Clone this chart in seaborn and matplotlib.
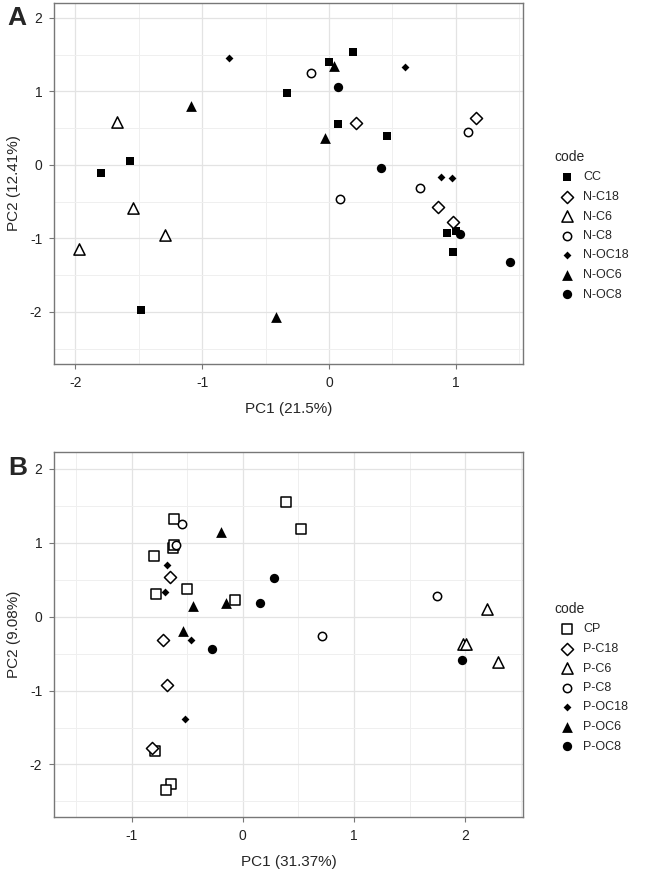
import pandas as pd
import matplotlib
matplotlib.use("Agg")
import matplotlib.pyplot as plt
import seaborn as sns
from matplotlib.ticker import MultipleLocator

sns.set_theme(style="white")
plt.rcParams['font.family'] = ['Liberation Sans', 'DejaVu Sans']
plt.rcParams['axes.unicode_minus'] = False

# panel A data (N samples)
a_code = (["CC"] * 11 + ["N-C18"] * 4 + ["N-C6"] * 4 + ["N-C8"] * 4
          + ["N-OC18"] * 4 + ["N-OC6"] * 4 + ["N-OC8"] * 4)
a_pc1 = [0.19, 0.00, -0.33, 0.07, 0.46, -1.57, -1.80, -1.48, 0.93, 1.00, 0.98,
         0.21, 1.16, 0.86, 0.98,
         -1.67, -1.55, -1.29, -1.97,
         -0.14, 1.10, 0.72, 0.09,
         -0.79, 0.60, 0.88, 0.97,
         -1.09, 0.04, -0.03, -0.42,
         0.07, 0.41, 1.03, 1.43]
a_pc2 = [1.53, 1.40, 0.98, 0.56, 0.39, 0.05, -0.11, -1.97, -0.93, -0.90, -1.18,
         0.57, 0.63, -0.58, -0.78,
         0.58, -0.59, -0.96, -1.15,
         1.25, 0.45, -0.32, -0.47,
         1.45, 1.33, -0.16, -0.18,
         0.80, 1.35, 0.36, -2.07,
         1.06, -0.05, -0.94, -1.32]

# panel B data (P samples)
b_code = (["CP"] * 12 + ["P-C18"] * 4 + ["P-C6"] * 4 + ["P-C8"] * 4
          + ["P-OC18"] * 4 + ["P-OC6"] * 4 + ["P-OC8"] * 4)
b_pc1 = [0.39, 0.52, -0.62, -0.63, -0.62, -0.80, -0.50, -0.78, -0.07, -0.79, -0.65, -0.69,
         -0.66, -0.72, -0.68, -0.82,
         2.20, 1.98, 2.01, 2.30,
         -0.55, -0.60, 1.75, 0.71,
         -0.68, -0.70, -0.47, -0.52,
         -0.20, -0.45, -0.15, -0.54,
         0.28, 0.15, -0.28, 1.97]
b_pc2 = [1.55, 1.19, 1.32, 0.93, 0.97, 0.82, 0.37, 0.31, 0.23, -1.82, -2.26, -2.35,
         0.54, -0.32, -0.92, -1.78,
         0.10, -0.37, -0.37, -0.61,
         1.26, 0.97, 0.28, -0.26,
         0.70, 0.34, -0.32, -1.38,
         1.14, 0.15, 0.18, -0.20,
         0.53, 0.18, -0.44, -0.58]

# marker style per legend position: (marker, filled, size)
rest = [("D", False, 38), ("^", False, 65), ("o", False, 36),
        ("D", True, 16), ("^", True, 60), ("o", True, 45)]
styles_a = [("s", True, 40)] + rest
styles_b = [("s", False, 44)] + rest

fig = plt.figure(figsize=(6.5, 8.76), dpi=100)
axA = fig.add_axes([0.083, 0.5845, 0.7215, 0.412])
axB = fig.add_axes([0.083, 0.0674, 0.7215, 0.4167])


def draw(ax, codes, pc1, pc2, styles, xlim, ylim, xlab, ylab, legend_y):
    df = pd.DataFrame({"code": codes, "PC1": pc1, "PC2": pc2})
    groups = list(dict.fromkeys(codes))
    for g, (m, filled, s) in zip(groups, styles):
        sub = df[df["code"] == g]
        sns.scatterplot(data=sub, x="PC1", y="PC2", ax=ax, marker=m, s=s,
                        facecolor="black" if filled else "white",
                        edgecolor="black", linewidth=0 if filled else 1.1,
                        label=g, zorder=3)
    ax.set_xlim(*xlim)
    ax.set_ylim(*ylim)
    ax.xaxis.set_major_locator(MultipleLocator(1))
    ax.yaxis.set_major_locator(MultipleLocator(1))
    ax.xaxis.set_minor_locator(MultipleLocator(0.5))
    ax.yaxis.set_minor_locator(MultipleLocator(0.5))
    ax.grid(which="major", color="#e3e3e3", linewidth=0.9)
    ax.grid(which="minor", color="#efefef", linewidth=0.7)
    ax.set_axisbelow(True)
    for sp in ax.spines.values():
        sp.set_color("#777777")
        sp.set_linewidth(1.0)
    ax.tick_params(which="major", length=3.5, width=0.8, color="#777777",
                   labelsize=10, labelcolor="#222222", pad=5, direction="out",
                   bottom=True, left=True)
    ax.tick_params(which="minor", length=0)
    ax.set_xlabel(xlab, fontsize=11, labelpad=9)
    ax.set_ylabel(ylab, fontsize=11, labelpad=6)
    ax.legend(title="code", loc="upper left", bbox_to_anchor=(0.845, legend_y),
              bbox_transform=fig.transFigure, frameon=False, fontsize=9,
              title_fontsize=10, alignment="left", labelspacing=0.6,
              handletextpad=0.3, borderaxespad=0)


draw(axA, a_code, a_pc1, a_pc2, styles_a, (-2.17, 1.53), (-2.71, 2.2),
     "PC1 (21.5%)", "PC2 (12.41%)", 1 - 145 / 876)
draw(axB, b_code, b_pc1, b_pc2, styles_b, (-1.70, 2.52), (-2.71, 2.23),
     "PC1 (31.37%)", "PC2 (9.08%)", 1 - 597 / 876)

fig.text(0.012, 1 - 18 / 876, "A", fontsize=19, fontweight="bold", va="center")
fig.text(0.012, 1 - 468 / 876, "B", fontsize=19, fontweight="bold", va="center")

fig.savefig("out.png", dpi=100)
